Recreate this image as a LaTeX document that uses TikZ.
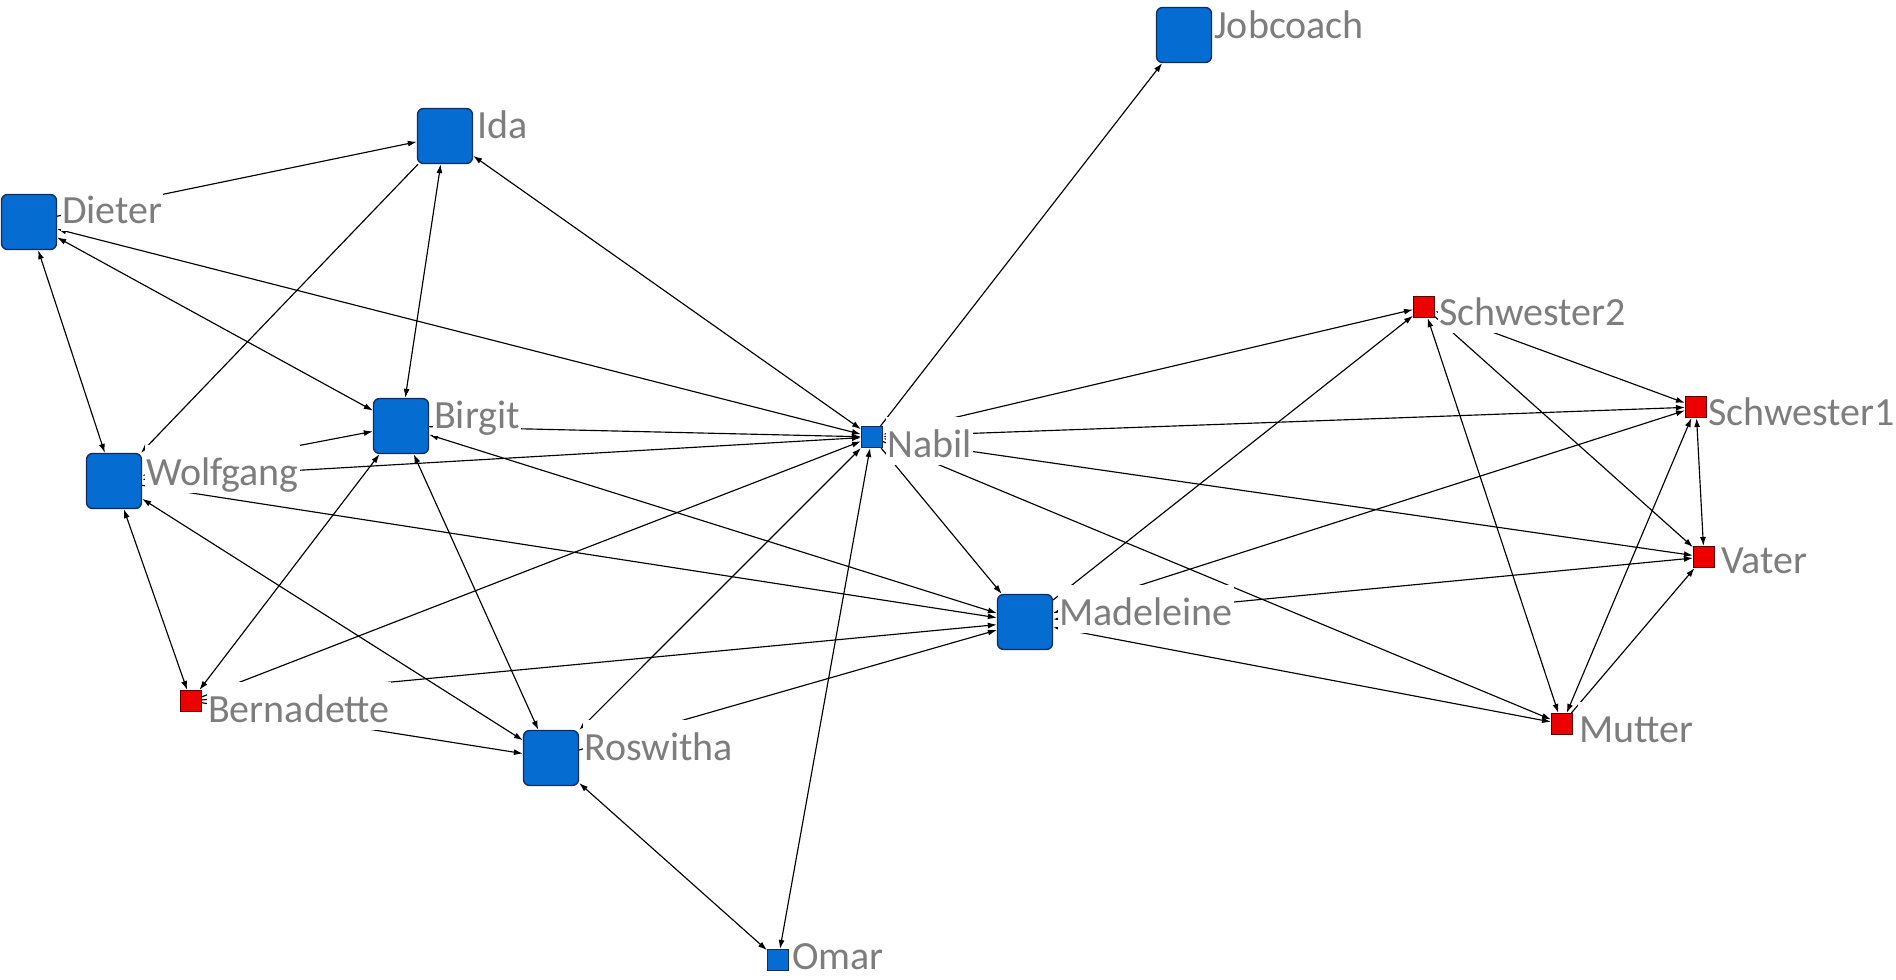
\documentclass[tikz,border=0pt]{standalone}
\usepackage{fontspec}
\setmainfont{Carlito}
\usetikzlibrary{arrows.meta}
\definecolor{nodeblue}{RGB}{5,108,210}
\definecolor{nodeborder}{RGB}{16,44,92}
\definecolor{nodered}{RGB}{236,0,0}
\definecolor{redborder}{RGB}{90,0,0}
\definecolor{labelgray}{RGB}{125,125,125}
\pgfdeclarelayer{edges}
\pgfsetlayers{edges,main}
\begin{document}
\begin{tikzpicture}[x=1pt,y=-1pt,
  bignode/.style={draw=nodeborder, line width=1.3pt, fill=nodeblue,
    rounded corners=6pt, minimum size=55pt, inner sep=0pt},
  smallblue/.style={draw=nodeborder, line width=1.1pt, fill=nodeblue,
    minimum size=21pt, inner sep=0pt},
  rednode/.style={draw=redborder, line width=1.1pt, fill=nodered,
    minimum size=21pt, inner sep=0pt},
  lbl/.style={anchor=base west, fill=white, text=labelgray,
    font=\fontsize{40}{48}\selectfont, inner xsep=1pt, inner ysep=2pt,
    text height=38pt, text depth=6pt},
  tie/.style={line width=1.15pt, -{Latex[length=9pt,width=6pt]}},
  tietwo/.style={line width=1.15pt,
    {Latex[length=9pt,width=6pt]}-{Latex[length=9pt,width=6pt]}},
]
\useasboundingbox (0,0) rectangle (1896,980);

% actors
\node[bignode]   (jobcoach)   at (1184,35)  {};
\node[bignode]   (ida)        at (445,136)  {};
\node[bignode]   (dieter)     at (29,222)   {};
\node[bignode]   (birgit)     at (401,426)  {};
\node[bignode]   (wolfgang)   at (114,481)  {};
\node[smallblue] (nabil)      at (872,437)  {};
\node[bignode]   (madeleine)  at (1025,622) {};
\node[rednode]   (bernadette) at (191,701)  {};
\node[bignode]   (roswitha)   at (551,758)  {};
\node[smallblue] (omar)       at (778,960)  {};
\node[rednode]   (schwester2) at (1424,307) {};
\node[rednode]   (schwester1) at (1696,407) {};
\node[rednode]   (vater)      at (1704,557) {};
\node[rednode]   (mutter)     at (1562,724) {};

% names, on white boxes that hide the ties passing beneath
\node[lbl] (jobcoach-t)   at (1213,38)  {Jobcoach};
\node[lbl] (ida-t)        at (476,138)  {Ida};
\node[lbl] (dieter-t)     at (61,223)   {Dieter};
\node[lbl] (birgit-t)     at (433,428)  {Birgit};
\node[lbl] (wolfgang-t)   at (145,485)  {Wolfgang};
\node[lbl] (nabil-t)      at (886,457)  {Nabil};
\node[lbl] (madeleine-t)  at (1058,625) {Madeleine};
\node[lbl] (bernadette-t) at (207,722)  {Bernadette};
\node[lbl] (roswitha-t)   at (583,760)  {Roswitha};
\node[lbl, text depth=0pt] (omar-t) at (791,969) {Omar};
\node[lbl] (schwester2-t) at (1438,325) {Schwester2};
\node[lbl] (schwester1-t) at (1707,425) {Schwester1};
\node[lbl] (vater-t)      at (1720,573) {Vater};
\node[lbl] (mutter-t)     at (1578,742) {Mutter};

\begin{pgfonlayer}{edges}
\fill[white] (0,0) rectangle (1896,980);
% one-way ties
\draw[tie] (dieter) -- (ida);
\draw[tie] (ida) -- (wolfgang);
\draw[tie] (wolfgang) -- (madeleine);
\draw[tie] (birgit) -- (nabil);
\draw[tie] (bernadette) -- (nabil);
\draw[tie] (bernadette) -- (madeleine);
\draw[tie] (bernadette) -- (roswitha);
\draw[tie] (roswitha) -- (madeleine);
\draw[tie] (nabil) -- (jobcoach);
\draw[tie] (nabil) -- (madeleine);
\draw[tie] (nabil) -- (mutter);
\draw[tie] (madeleine) -- (schwester2);
\draw[tie] (schwester2) -- (vater);
\draw[tie] (mutter) -- (vater);
% mutual ties
\draw[tietwo] (dieter) -- (wolfgang);
\draw[tietwo] (dieter) -- (birgit);
\draw[tietwo] (dieter) -- (nabil);
\draw[tietwo] (ida) -- (birgit);
\draw[tietwo] (ida) -- (nabil);
\draw[tietwo] (wolfgang) -- (birgit);
\draw[tietwo] (wolfgang) -- (nabil);
\draw[tietwo] (wolfgang) -- (roswitha);
\draw[tietwo] (wolfgang) -- (bernadette);
\draw[tietwo] (birgit) -- (roswitha);
\draw[tietwo] (birgit) -- (madeleine);
\draw[tietwo] (bernadette) -- (birgit);
\draw[tietwo] (roswitha) -- (nabil);
\draw[tietwo] (roswitha) -- (omar);
\draw[tietwo] (omar) -- (nabil);
\draw[tietwo] (nabil) -- (schwester2);
\draw[tietwo] (nabil) -- (schwester1);
\draw[tietwo] (nabil) -- (vater);
\draw[tietwo] (madeleine) -- (schwester1);
\draw[tietwo] (madeleine) -- (vater);
\draw[tietwo] (madeleine) -- (mutter);
\draw[tietwo] (schwester2) -- (schwester1);
\draw[tietwo] (schwester2) -- (mutter);
\draw[tietwo] (schwester1) -- (vater);
\draw[tietwo] (schwester1) -- (mutter);
\end{pgfonlayer}
\end{tikzpicture}
\end{document}
